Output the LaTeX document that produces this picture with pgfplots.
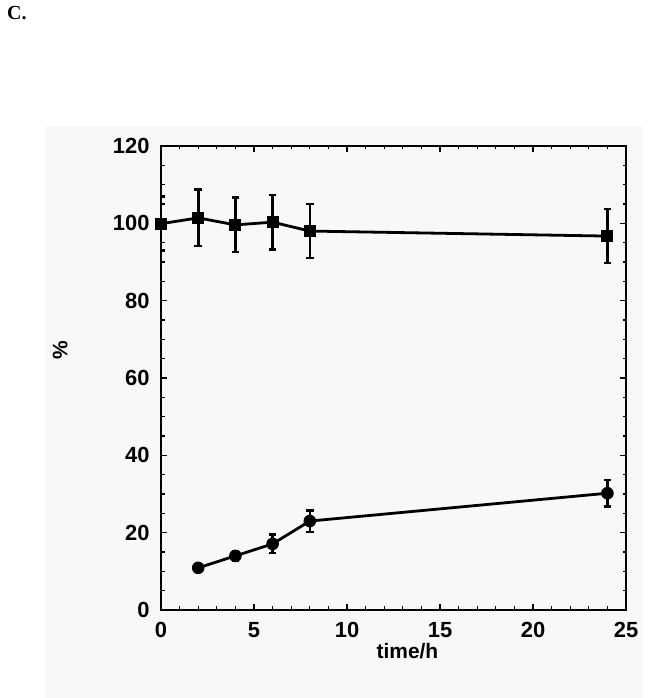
\documentclass[border=0pt]{standalone}
\usepackage{fontspec}
\setmainfont{Liberation Sans}
\newfontfamily\serifbf{Liberation Serif}
\usepackage{pgfplots}
\pgfplotsset{compat=1.18}
\definecolor{bg}{RGB}{248,248,248}
\begin{document}
\begin{tikzpicture}[x=1bp,y=1bp]
\path[use as bounding box] (0,0) rectangle (649,698);
\fill[white] (0,0) rectangle (649,698);
\fill[bg] (45,0) rectangle (643,572);
\node[anchor=base west, inner sep=0pt, font=\serifbf\bfseries\fontsize{20}{24}\selectfont] at (7,678) {C.};
\begin{axis}[at={(161bp,88bp)}, anchor=south west, scale only axis,
  width=465bp, height=464bp,
  xmin=0, xmax=25, ymin=0, ymax=120,
  xtick={0,5,...,25}, ytick={0,20,...,120},
  minor x tick num=4, minor y tick num=3,
  tick align=inside, major tick length=6bp, minor tick length=3.5bp,
  axis line style={line width=1.6bp},
  every tick/.style={black, line width=1.2bp},
  tick label style={font=\bfseries\fontsize{22}{26}\selectfont},
  yticklabel style={xshift=-8bp},
  xticklabel style={yshift=-9bp},
  /pgf/number format/assume math mode=true,
  xlabel={time/h}, ylabel={\%},
  label style={font=\bfseries\fontsize{21}{24}\selectfont},
  xlabel style={at={(axis description cs:0.53,-0.088)}, anchor=center},
  ylabel style={at={(axis description cs:-0.217,0.56)}, anchor=center},
  ]
\addplot[black, line width=2.8bp, mark=square*, mark size=5.5bp,
  mark options={line width=1bp},
  error bars/.cd, y dir=both, y explicit,
  error bar style={line width=2.6bp},
  error mark options={rotate=90, mark size=3.8bp, line width=2.6bp}]
  table[x=x, y=y, y error=e] {
x y e
0 99.9 7.0
2 101.4 7.3
4 99.6 7.0
6 100.3 7.0
8 98.0 7.0
24 96.7 7.0
};
\addplot[black, line width=2.8bp, mark=*, mark size=5.8bp,
  mark options={line width=1bp},
  error bars/.cd, y dir=both, y explicit,
  error bar style={line width=2.6bp},
  error mark options={rotate=90, mark size=3.8bp, line width=2.6bp}]
  table[x=x, y=y, y error=e] {
x y e
2 10.9 1.0
4 14.0 1.2
6 17.1 2.4
8 23.0 2.8
24 30.2 3.4
};
\end{axis}
\end{tikzpicture}
\end{document}
